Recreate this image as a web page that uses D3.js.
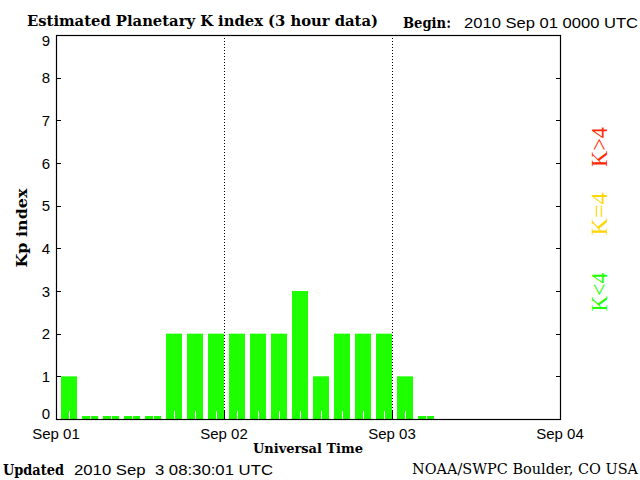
<!DOCTYPE html>
<html>
<head>
<meta charset="utf-8">
<script src="https://cdn.jsdelivr.net/npm/d3@7"></script>
<style>
  html, body { margin: 0; padding: 0; background: #fff; }
  svg { display: block; }
  text { white-space: pre; }
</style>
</head>
<body>
<div id="chart"></div>
<script>
// ---- data ----
const kpTimes = [
  "2010-09-01T00:00Z","2010-09-01T03:00Z","2010-09-01T06:00Z","2010-09-01T09:00Z",
  "2010-09-01T12:00Z","2010-09-01T15:00Z","2010-09-01T18:00Z","2010-09-01T21:00Z",
  "2010-09-02T00:00Z","2010-09-02T03:00Z","2010-09-02T06:00Z","2010-09-02T09:00Z",
  "2010-09-02T12:00Z","2010-09-02T15:00Z","2010-09-02T18:00Z","2010-09-02T21:00Z",
  "2010-09-03T00:00Z","2010-09-03T03:00Z"
];
const kpValues = [1,0,0,0,0,2,2,2, 2,2,2,3,1,2,2,2, 1,0];
const dayTicks = ["2010-09-01T00:00Z","2010-09-02T00:00Z","2010-09-03T00:00Z","2010-09-04T00:00Z"];
const dayLabels = ["Sep 01","Sep 02","Sep 03","Sep 04"];
const yTicks = [0,1,2,3,4,5,6,7,8,9];
const legendLabels = ["K>4","K=4","K<4"];
const legendColors = ["#ff2a00","#ffd700","#1eff00"];

// ---- layout ----
const W = 640, H = 480;
const L = 56, R = 560, T = 35, B = 419;
const serif = "'DejaVu Serif', serif";
const sans = "'Liberation Sans', Arial, sans-serif";
const barColor = "#1eff00";

const svg = d3.select("#chart").append("svg").attr("width", W).attr("height", H);

const x = d3.scaleUtc()
  .domain([new Date(dayTicks[0]), new Date(dayTicks[dayTicks.length - 1])])
  .range([L, R]);
const y = d3.scaleLinear().domain([0, 9]).range([B, T]);

const data = kpTimes.map((t, i) => ({ t: new Date(t), v: kpValues[i] }));

// bars
svg.append("g").selectAll("rect").data(data).join("rect")
  .attr("x", d => x(d.t) + 5)
  .attr("width", d => x(d3.utcHour.offset(d.t, 3)) - x(d.t) - 5)
  .attr("y", d => Math.min(y(d.v), B - 3))
  .attr("height", d => Math.max(B - y(d.v), 3))
  .attr("fill", barColor);

// white minor ticks at bar centres (3-hour slots)
const slotTimes = d3.utcHour.every(3).range(x.domain()[0], x.domain()[1]);
svg.append("g").selectAll("line").data(slotTimes).join("line")
  .attr("x1", d => Math.round(x(d) + 13) + 0.5)
  .attr("x2", d => Math.round(x(d) + 13) + 0.5)
  .attr("y1", B - 8).attr("y2", B)
  .attr("stroke", "#fff").attr("stroke-width", 1);

// dotted day separators
svg.append("g").selectAll("line").data(dayTicks.slice(1, -1)).join("line")
  .attr("x1", d => Math.round(x(new Date(d))) + 0.5)
  .attr("x2", d => Math.round(x(new Date(d))) + 0.5)
  .attr("y1", T).attr("y2", B)
  .attr("stroke", "#000").attr("stroke-width", 1)
  .attr("stroke-dasharray", "1,2");

// day ticks at bottom
svg.append("g").selectAll("line").data(dayTicks).join("line")
  .attr("x1", d => Math.round(x(new Date(d))) + 0.5)
  .attr("x2", d => Math.round(x(new Date(d))) + 0.5)
  .attr("y1", B - 8).attr("y2", B)
  .attr("stroke", "#000").attr("stroke-width", 1);

// frame
svg.append("rect")
  .attr("x", L + 0.5).attr("y", T + 0.5)
  .attr("width", R - L).attr("height", B - T)
  .attr("fill", "none").attr("stroke", "#000").attr("stroke-width", 1.2);

// y ticks (both sides, pointing inward)
const yt = svg.append("g");
yt.selectAll("line.l").data(yTicks).join("line").attr("class", "l")
  .attr("x1", L).attr("x2", L + 5)
  .attr("y1", d => Math.round(y(d)) + 0.5).attr("y2", d => Math.round(y(d)) + 0.5)
  .attr("stroke", "#000");
yt.selectAll("line.r").data(yTicks).join("line").attr("class", "r")
  .attr("x1", R - 4).attr("x2", R)
  .attr("y1", d => Math.round(y(d)) + 0.5).attr("y2", d => Math.round(y(d)) + 0.5)
  .attr("stroke", "#000");
yt.selectAll("text").data(yTicks).join("text")
  .attr("x", L - 6)
  .attr("y", d => Math.max(T + 11, Math.min(B, y(d) + 5.5)))
  .attr("text-anchor", "end")
  .attr("font-family", sans).attr("font-size", 15)
  .text(d => d);

// x tick labels
svg.append("g").selectAll("text").data(dayTicks).join("text")
  .attr("x", d => x(new Date(d)))
  .attr("y", 439)
  .attr("text-anchor", "middle")
  .attr("font-family", sans).attr("font-size", 15)
  .text((d, i) => dayLabels[i]);

// titles & labels
function txt(s, xx, yy, opts) {
  const t = svg.append("text").attr("x", xx).attr("y", yy)
    .attr("font-family", opts.family || serif)
    .attr("font-size", opts.size || 14)
    .attr("font-weight", opts.weight || "normal")
    .attr("fill", opts.fill || "#000")
    .text(s);
  if (opts.anchor) t.attr("text-anchor", opts.anchor);
  if (opts.len) t.attr("textLength", opts.len).attr("lengthAdjust", "spacingAndGlyphs");
  return t;
}
txt("Estimated Planetary K index (3 hour data)", 27, 26, { weight: "bold", size: 14, len: 351 });
txt("Begin:", 403, 28, { weight: "bold", size: 14, len: 48 });
txt("2010 Sep 01 0000 UTC", 464, 28, { family: sans, size: 15, len: 174 });
txt("Universal Time", 253, 453, { weight: "bold", size: 13, len: 110 });
txt("Updated", 3, 475, { weight: "bold", size: 14, len: 61 });
txt("2010 Sep  3 08:30:01 UTC", 74, 475, { family: sans, size: 15, len: 199 });
txt("NOAA/SWPC Boulder, CO USA", 412, 474, { size: 14, len: 226 });

svg.append("text")
  .attr("transform", "translate(27,228) rotate(-90)")
  .attr("text-anchor", "middle")
  .attr("font-family", serif).attr("font-weight", "bold").attr("font-size", 14)
  .attr("textLength", 79).attr("lengthAdjust", "spacingAndGlyphs")
  .text("Kp index");

// right-side legend
const legendCenters = [147, 214, 292];
const legendLens = [40, 43, 39];
svg.append("g").selectAll("text").data(legendLabels).join("text")
  .attr("transform", (d, i) => `translate(607,${legendCenters[i]}) rotate(-90)`)
  .attr("text-anchor", "middle")
  .attr("font-family", "'Liberation Serif', serif").attr("font-size", 23)
  .attr("fill", (d, i) => legendColors[i])
  .attr("textLength", (d, i) => legendLens[i]).attr("lengthAdjust", "spacingAndGlyphs")
  .text(d => d);
</script>
</body>
</html>
